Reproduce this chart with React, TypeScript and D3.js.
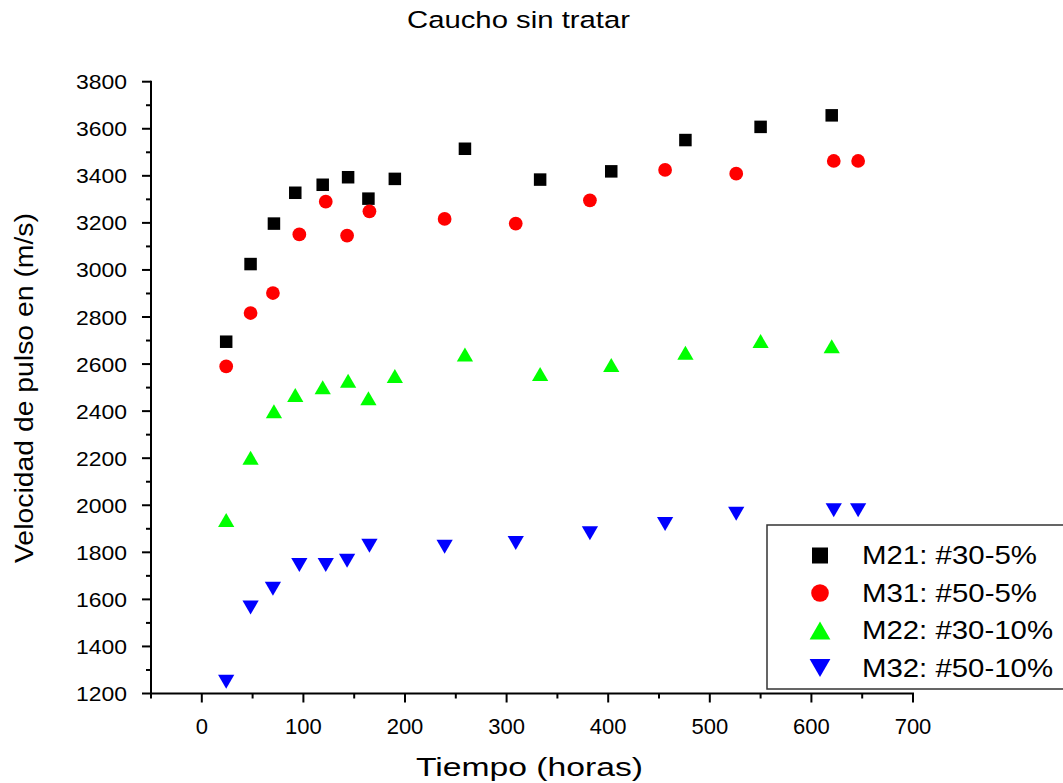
import React from "react";
import * as d3 from "d3";

const timesA = [24, 48, 71, 92, 119, 144, 164, 190, 259, 333, 403, 476, 550, 620];
const timesB = [24, 48, 70, 96, 122, 143, 165, 239, 309, 382, 456, 526, 622, 646];
const m21 = [2695, 3025, 3197, 3328, 3362, 3394, 3303, 3387, 3515, 3384, 3419, 3552, 3608, 3657];
const m31 = [2590, 2817, 2902, 3151, 3290, 3146, 3249, 3217, 3197, 3296, 3425, 3409, 3463, 3463];
const m22 = [1937, 2202, 2399, 2469, 2501, 2529, 2455, 2549, 2641, 2558, 2596, 2648, 2698, 2676];
const m32 = [1250, 1565, 1645, 1746, 1746, 1764, 1828, 1824, 1840, 1881, 1920, 1964, 1979, 1979];
const seriesNames = ["M21: #30-5%", "M31: #50-5%", "M22: #30-10%", "M32: #50-10%"];
const xTicks = [0, 100, 200, 300, 400, 500, 600, 700];
const yTicks = [1200, 1400, 1600, 1800, 2000, 2200, 2400, 2600, 2800, 3000, 3200, 3400, 3600, 3800];

const W = 1063, H = 783;
const x = d3.scaleLinear().domain([-50, 700]).range([151, 913]);
const y = d3.scaleLinear().domain([1200, 3800]).range([693.5, 81.7]);
const FONT = "'Liberation Sans', Arial, sans-serif";

type Kind = "square" | "circle" | "up" | "down";
const series: { name: string; xs: number[]; ys: number[]; kind: Kind; color: string }[] = [
  { name: seriesNames[0], xs: timesA, ys: m21, kind: "square", color: "#000000" },
  { name: seriesNames[1], xs: timesB, ys: m31, kind: "circle", color: "#ff0000" },
  { name: seriesNames[2], xs: timesA, ys: m22, kind: "up", color: "#00ff00" },
  { name: seriesNames[3], xs: timesB, ys: m32, kind: "down", color: "#0000ff" },
];
const legendLen = [175, 175, 191, 191];

function Marker({ kind, cx, cy, s, color }: { kind: Kind; cx: number; cy: number; s: number; color: string }) {
  if (kind === "square") return <rect x={cx - s / 2} y={cy - s / 2} width={s} height={s} fill={color} />;
  if (kind === "circle") return <circle cx={cx} cy={cy} r={s * 0.55} fill={color} />;
  const w = s * 1.3, h = s * 1.12;
  if (kind === "up")
    return <path d={`M${cx},${cy - h * 0.5} L${cx + w / 2},${cy + h * 0.5} L${cx - w / 2},${cy + h * 0.5} Z`} fill={color} />;
  return <path d={`M${cx},${cy + h * 0.5} L${cx + w / 2},${cy - h * 0.5} L${cx - w / 2},${cy - h * 0.5} Z`} fill={color} />;
}

export default function App() {
  const minorY = d3.range(1200, 3801, 100).filter((v) => v % 200 !== 0);
  const minorX = d3.range(-50, 701, 50).filter((v) => v % 100 !== 0);
  const x0 = x.range()[0];
  const yb = y.range()[0];
  return (
    <svg width={W} height={H} style={{ position: "absolute", left: 0, top: 0 }} fontFamily={FONT}>
      <rect width={W} height={H} fill="#fff" />
      <text x={518.5} y={28} fontSize={24.5} textAnchor="middle" textLength={223} lengthAdjust="spacingAndGlyphs">
        Caucho sin tratar
      </text>
      {/* axes */}
      <line x1={x0} x2={x0} y1={y(3800) - 1} y2={yb + 1} stroke="#000" strokeWidth={2} />
      <line x1={x0 - 1} x2={x(700) + 1} y1={yb} y2={yb} stroke="#000" strokeWidth={2} />
      {yTicks.map((t) => (
        <g key={"y" + t}>
          <line x1={x0 - 9} x2={x0} y1={y(t)} y2={y(t)} stroke="#000" strokeWidth={2} />
          <text x={x0 - 24} y={y(t) + 7.5} fontSize={21} textAnchor="end" textLength={t >= 1000 ? 51 : undefined} lengthAdjust="spacingAndGlyphs">{t}</text>
        </g>
      ))}
      {minorY.map((t) => (
        <line key={"my" + t} x1={x0 - 5} x2={x0} y1={y(t)} y2={y(t)} stroke="#000" strokeWidth={2} />
      ))}
      {xTicks.map((t) => (
        <g key={"x" + t}>
          <line x1={x(t)} x2={x(t)} y1={yb} y2={yb + 9} stroke="#000" strokeWidth={2} />
          <text x={x(t)} y={yb + 40.5} fontSize={22} textAnchor="middle">{t}</text>
        </g>
      ))}
      {minorX.map((t) => (
        <line key={"mx" + t} x1={x(t)} x2={x(t)} y1={yb} y2={yb + 5} stroke="#000" strokeWidth={2} />
      ))}
      <text x={529.5} y={776} fontSize={26} textAnchor="middle" textLength={227} lengthAdjust="spacingAndGlyphs">
        Tiempo (horas)
      </text>
      <text transform={`translate(33,388) rotate(-90)`} fontSize={26} textAnchor="middle" textLength={350} lengthAdjust="spacingAndGlyphs">
        Velocidad de pulso en (m/s)
      </text>
      {series.map((s) =>
        s.xs.map((xv, i) => (
          <Marker key={s.name + i} kind={s.kind} cx={x(xv)} cy={y(s.ys[i])} s={12.5} color={s.color} />
        ))
      )}
      {/* legend */}
      <rect x={767} y={525} width={300} height={164} fill="#fff" stroke="#333" strokeWidth={1.5} />
      {series.map((s, i) => (
        <g key={"lg" + i}>
          <Marker kind={s.kind} cx={820} cy={555.5 + i * 37.5} s={16} color={s.color} />
          <text x={862} y={564 + i * 37.5} fontSize={25} textLength={legendLen[i]} lengthAdjust="spacingAndGlyphs">{s.name}</text>
        </g>
      ))}
    </svg>
  );
}
